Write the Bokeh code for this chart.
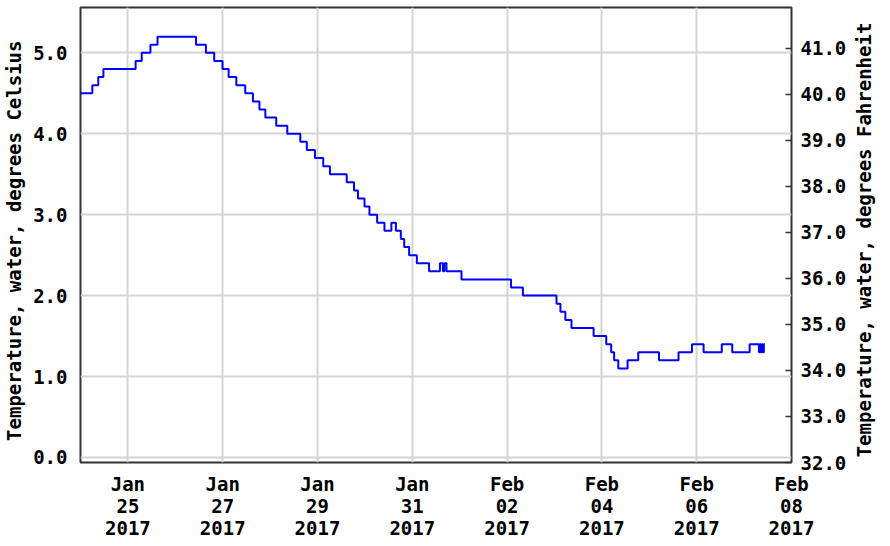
import math
import pandas as pd
from bokeh.plotting import figure
from bokeh.models import (Range1d, LinearAxis, FixedTicker, DatetimeTickFormatter,
                          NumeralTickFormatter, ColumnDataSource, Label)
from bokeh.embed import file_html
from bokeh.resources import INLINE

# ---- data ----
series_start = "2017-01-24 00:00"
# hours after series_start at which the reading changes
change_hours = [0, 6.0, 9.0, 11.6, 27.9, 31.0, 35.4, 39.0, 58.5, 63.5, 67.7, 71.9,
                75.0, 78.9, 83.4, 87.3, 90.6, 93.6, 99.1, 104.7, 111.3, 114.6, 118.7,
                122.9, 126.3, 134.8, 138.5, 140.5, 143.8, 146.3, 150.2, 153.9, 157.4,
                159.7, 162.2, 163.9, 166.4, 170.3, 176.5, 182.0, 183.5, 184.2, 185.3,
                192.9, 218.0, 224.0, 241.0, 243.0, 245.5, 248.6, 259.8, 266.2, 268.7,
                270.2, 272.3, 277.0, 282.4, 292.9, 302.8, 309.6, 315.5, 324.7, 330.0,
                338.8, 343.5, 344.0, 344.5, 345.0, 345.5, 346.0, 346.5]
temp_c = [4.5, 4.6, 4.7, 4.8, 4.9, 5.0, 5.1, 5.2, 5.1, 5.0, 4.9, 4.8,
          4.7, 4.6, 4.5, 4.4, 4.3, 4.2, 4.1, 4.0, 3.9, 3.8, 3.7,
          3.6, 3.5, 3.4, 3.3, 3.2, 3.1, 3.0, 2.9, 2.8, 2.9,
          2.8, 2.7, 2.6, 2.5, 2.4, 2.3, 2.4, 2.3, 2.4, 2.3,
          2.2, 2.1, 2.0, 1.9, 1.8, 1.7, 1.6, 1.5, 1.4, 1.3,
          1.2, 1.1, 1.2, 1.3, 1.2, 1.3, 1.4, 1.3, 1.4, 1.3,
          1.4, 1.3, 1.4, 1.3, 1.4, 1.3, 1.4, 1.4]

x_tick_dates = ["2017-01-25", "2017-01-27", "2017-01-29", "2017-01-31",
                "2017-02-02", "2017-02-04", "2017-02-06", "2017-02-08"]
celsius_ticks = [0, 1, 2, 3, 4, 5]
fahrenheit_ticks = [32, 33, 34, 35, 36, 37, 38, 39, 40, 41]

x_min = "2017-01-24 00:00"
x_max = "2017-02-08 00:00"
c_range = (-0.062, 5.56)
f_range = (32.0, 41.89)

left_title = "Temperature, water, degrees Celsius"
right_title = "Temperature, water, degrees Fahrenheit"

# ---- helpers ----
epoch = pd.Timestamp("1970-01-01")
def to_ms(ts):
    return (pd.Timestamp(ts) - epoch) / pd.Timedelta(milliseconds=1)

t0 = pd.Timestamp(series_start)
times = [t0 + pd.Timedelta(hours=h) for h in change_hours]
src = ColumnDataSource(data=dict(t=times, v=temp_c))

FONT = "DejaVu Sans Mono"
FS = "19px"
W, H = 880, 542
BL, BR, BT, BB = 74, 89, 7, 80

p = figure(width=W, height=H, x_axis_type="datetime",
           x_range=Range1d(to_ms(x_min), to_ms(x_max)),
           y_range=Range1d(*c_range),
           output_backend="svg", toolbar_location=None,
           min_border_left=BL, min_border_right=BR,
           min_border_top=BT, min_border_bottom=BB)
p.background_fill_color = "white"
p.border_fill_color = "white"
p.outline_line_color = "#333333"
p.outline_line_width = 2

x_ticker = FixedTicker(ticks=[to_ms(d) for d in x_tick_dates])
fmt = "%b\n%d\n%Y"
xax = p.xaxis[0]
xax.ticker = x_ticker
xax.formatter = DatetimeTickFormatter(hours=fmt, days=fmt, months=fmt, years=fmt)
p.xgrid.ticker = x_ticker

yax = p.yaxis[0]
yax.ticker = FixedTicker(ticks=celsius_ticks)
yax.formatter = NumeralTickFormatter(format="0.0")
yax.axis_label = left_title + "\u00a0"
p.ygrid.ticker = FixedTicker(ticks=celsius_ticks)

p.extra_y_ranges = {"f": Range1d(*f_range)}
rax = LinearAxis(y_range_name="f", ticker=FixedTicker(ticks=fahrenheit_ticks),
                 formatter=NumeralTickFormatter(format="0.0"))
p.add_layout(rax, "right")

for ax in (xax, yax, rax):
    ax.axis_line_color = None
    ax.minor_tick_line_color = None
    ax.major_tick_out = 0
    ax.major_tick_in = 0
    ax.major_label_text_font = FONT
    ax.major_label_text_font_style = "bold"
    ax.major_label_text_font_size = FS
    ax.major_label_text_color = "black"
    ax.axis_label_text_font = FONT
    ax.axis_label_text_font_style = "bold"
    ax.axis_label_text_font_size = FS
    ax.axis_label_text_color = "black"

xax.major_tick_line_color = None
xax.major_label_standoff = 10
xax.major_label_text_line_height = 1.0
yax.major_tick_line_color = None
yax.major_label_standoff = 13
yax.axis_label_standoff = 5
rax.major_tick_in = 6
rax.major_tick_line_color = "#333333"
rax.major_tick_line_width = 1.5
rax.major_label_standoff = 9

for g in (p.xgrid, p.ygrid):
    g.grid_line_color = "#d4d4d4"
    g.grid_line_width = 2

p.step(x="t", y="v", source=src, mode="after", line_color="#0000ff", line_width=2)

# right-hand title, reading bottom to top, in its own side panel beyond the axis
frame_h = H - BT - BB
p.add_layout(Label(x=14, y=frame_h / 2 - 5, x_units="screen", y_units="screen",
                   text=right_title, angle=math.pi / 2, text_align="center",
                   text_baseline="middle", text_font=FONT, text_font_style="bold",
                   text_font_size=FS, text_color="black"), "right")

open("out.html", "w").write(file_html(p, INLINE))
